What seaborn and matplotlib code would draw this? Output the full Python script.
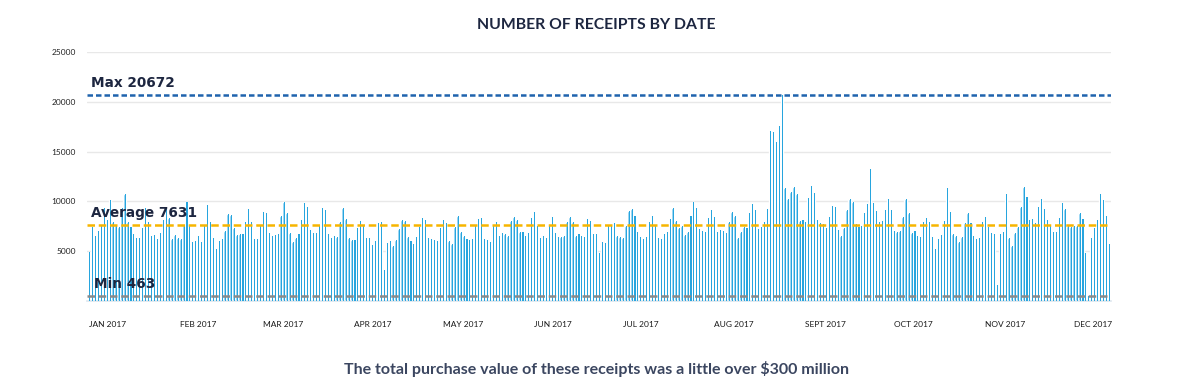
import numpy as np
import pandas as pd
import matplotlib
matplotlib.use("Agg")
import matplotlib.pyplot as plt
import seaborn as sns

# ---- data (daily receipt counts) ----
seg1 = [4950, 7470, 6530, 7030, 7640, 9350, 8140, 10150, 7970, 7640, 7470, 9350, 10750, 7970,
        7470, 6730, 6300, 6300, 7300, 9350, 7970, 6530, 6630, 6200, 6830, 8140, 9350, 8370,
        6200, 6630, 6300, 6250, 7640, 9900, 7640, 5900, 6000, 6530, 5900, 7640, 9600, 7970,
        6300, 5230, 6000, 6200, 7030, 8700, 8600, 7300, 6630, 6730, 6730, 7900, 9200, 7900,
        6200, 6200, 7640, 8900, 8800, 6830, 6530, 6630, 6700, 8500, 9900, 8800, 6830, 5900,
        6300, 6730, 8140, 9800, 9450, 7100, 6830, 6830, 7640, 9350, 9100, 6730, 6300, 6530,
        6400, 7970, 9300, 8200, 6300, 6100, 6100, 7300, 8040, 7600, 6300, 6300]
seg2 = [5630, 6030, 7800, 7900, 3120, 5800, 6030, 5560, 6130, 7240, 8140, 8040, 6460, 6030,
        5700, 6460, 7470, 8370, 8140, 6360, 6230, 6130, 6030, 7370, 8140, 7800, 6030, 5700,
        7470, 8570, 6900, 6560, 6230, 6130, 6230, 7570, 8270, 8300, 6230, 6130, 5900, 7570,
        7900, 6560, 6800, 6700, 6560, 8040, 8470, 8140, 6900, 6900, 6560, 6800, 8370, 8910,
        7570, 6360, 6560, 6360, 7570, 8470, 6800, 6460, 6460, 6560, 7900, 8470, 7900, 6560,
        6700, 6560, 6460, 8270, 8040, 6700, 6700, 4790, 5900, 5800, 7570, 7570, 7800, 6560,
        6460, 6360, 7570, 9040, 9250, 8570, 6930, 6460, 6230, 6460, 7900, 8570, 7670, 6360]
seg3 = [6230, 6730, 6900, 8240, 9310, 8070, 7300, 7570, 6630, 6970, 8570, 9980, 9310, 7200,
        7030, 6900, 8300, 9150, 8470, 6970, 7140, 7030, 6800, 7900, 8980, 8570, 6300, 6900,
        7470, 7370, 8810, 9720, 9150, 7240, 7470, 7970, 9250, 17090, 16950, 15950, 17520,
        20672, 11390, 10250, 10920, 11490, 10720, 8040, 8140, 7900, 10380, 11590, 10820,
        8140, 7800, 7700, 7370, 8470, 9580, 9480, 7140, 6560, 7370, 9150, 10250, 9920, 7700,
        7470, 7570, 8810, 9720, 13270, 9820, 9040, 7900]
seg4 = [8040, 9150, 10250, 9150, 7030, 6900, 7030, 8470, 10250, 8810, 6800, 7030, 6560, 6460,
        7900, 8300, 7900, 6460, 5230, 6230, 6630, 8040, 11390, 8910, 6700, 6560, 5900, 6460,
        7800, 8810, 7800, 6560, 6230, 6360, 7900, 8470, 7470, 6800, 6700, 1600, 6700, 6900,
        10720, 6360, 5560, 6800, 7470, 9480, 11490, 10480, 8140, 8240, 7800, 9480, 10250,
        9250, 8140, 7570, 6900, 6900, 8300, 9820, 9250, 7570, 7470, 7570, 7570, 8810, 8240,
        4790, 463, 6360, 7370, 8140, 10720, 10150, 8570, 5700]
receipts = seg1 + seg2 + seg3 + seg4
dates = pd.date_range("2017-01-01", periods=len(receipts), freq="D")

month_labels = ["JAN 2017", "FEB 2017", "MAR 2017", "APR 2017", "MAY 2017", "JUN 2017",
                "JUL 2017", "AUG 2017", "SEPT 2017", "OCT 2017", "NOV 2017", "DEC 2017"]
month_starts = pd.date_range("2017-01-01", periods=12, freq="MS")

max_val, avg_val, min_val = 20672, 7631, 463
y_ticks = [5000, 10000, 15000, 20000, 25000]

title = "NUMBER OF RECEIPTS BY DATE"
caption = "The total purchase value of these receipts was a little over $300 million"

# ---- styling ----
sns.set_theme(style="white")
plt.rcParams["font.family"] = ["Lato", "DejaVu Sans"]

navy = "#1d2640"
light_blue = "#86cdef"
dark_blue = "#27a5de"

df = pd.DataFrame({"date": dates, "receipts": receipts})
df["idx"] = np.arange(len(df))

fig = plt.figure(figsize=(11.92, 3.90), dpi=100)
ax = fig.add_axes([0.073, 0.228, 0.859, 0.639])

sns.barplot(data=df, x="idx", y="receipts", color=light_blue, width=0.8,
            saturation=1, ax=ax, zorder=2)
ax.bar(df["idx"] + 0.22, df["receipts"], width=0.36, color=dark_blue,
       linewidth=0, zorder=3)

ax.set_ylim(0, 25000)
ax.set_xlim(-0.7, len(df) - 0.3)
ax.set_yticks(y_ticks)
ax.set_yticklabels([str(v) for v in y_ticks], fontsize=6, color="#222222")
ax.tick_params(axis="y", length=0, pad=8)
ax.yaxis.grid(True, color="#e8e8e8", linewidth=1, zorder=0)
ax.set_axisbelow(True)

pos = [int((m - dates[0]).days) for m in month_starts]
ax.set_xticks(pos)
ax.set_xticklabels(month_labels, fontsize=6, color="#1a1a1a", ha="left")
ax.tick_params(axis="x", length=0, pad=14)
ax.set_xlabel("")
ax.set_ylabel("")
for s in ["top", "right", "left"]:
    ax.spines[s].set_visible(False)
ax.spines["bottom"].set_color("#dde6ee")
ax.spines["bottom"].set_linewidth(1.2)

# reference lines
ax.axhline(max_val, color="#1f63ad", linestyle=(0, (2.2, 1.2)), linewidth=1.8, zorder=4)
ax.axhline(avg_val, color="#f7b500", linestyle=(0, (3, 1.5)), linewidth=1.8, zorder=4)
ax.axhline(min_val, color="#8a8a8a", linestyle=(0, (3, 1.5)), linewidth=1.8, zorder=4)

lab_font = ["DejaVu Sans"]
ax.text(0.5, max_val + 550, f"Max {max_val}", fontsize=9.8, fontweight="bold",
        color=navy, ha="left", va="bottom", zorder=5, family=lab_font)
ax.text(0.5, avg_val + 550, f"Average {avg_val}", fontsize=9.8, fontweight="bold",
        color=navy, ha="left", va="bottom", zorder=5, family=lab_font)
ax.text(1.5, min_val + 550, f"Min {min_val}", fontsize=9.8, fontweight="bold",
        color=navy, ha="left", va="bottom", zorder=5, family=lab_font)

fig.text(0.5, 0.935, title, ha="center", va="center", fontsize=11.3,
         fontweight="bold", color=navy)
fig.text(0.5, 0.053, caption, ha="center", va="center", fontsize=11.5,
         fontweight="bold", color="#3b4660")

fig.savefig("out.png", dpi=100)
